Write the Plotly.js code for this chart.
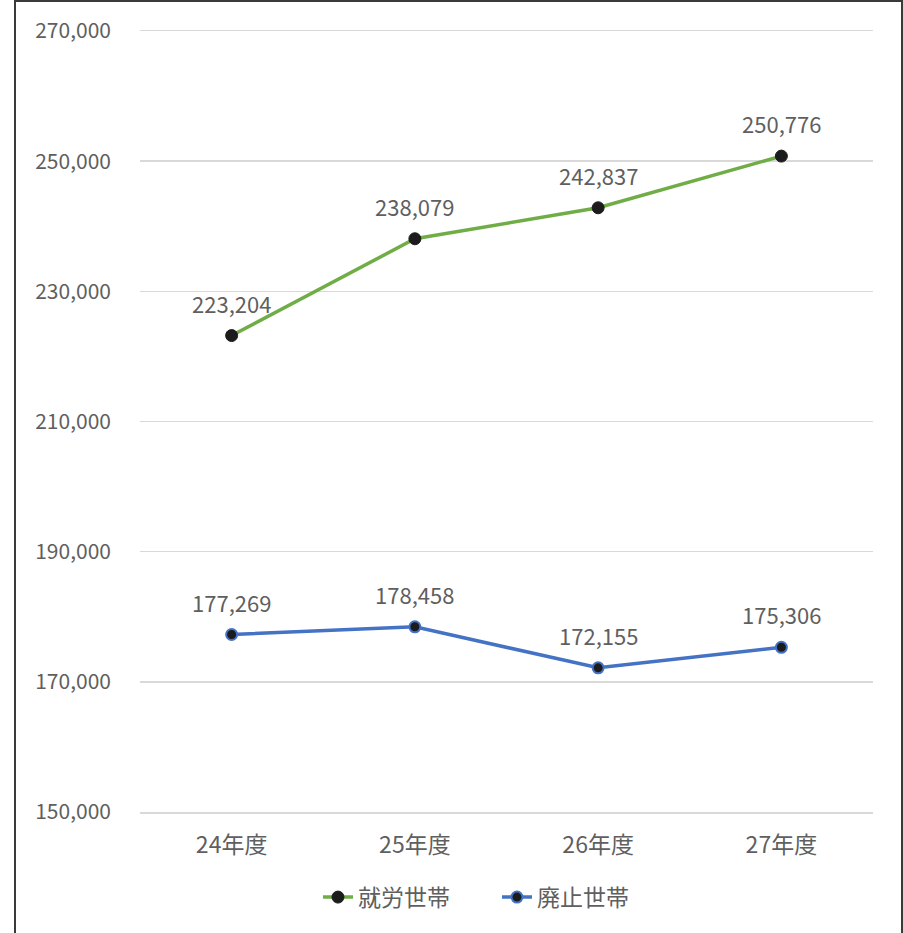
<!DOCTYPE html>
<html><head><meta charset="utf-8">
<script src="https://cdn.plot.ly/plotly-3.0.1.min.js"></script>
<style>
html,body{margin:0;padding:0;background:#fff;overflow:hidden;}
#chart{position:absolute;left:0;top:0;width:903px;height:933px;}
#frame{position:absolute;left:14px;top:0px;width:885px;height:960px;border:2px solid #3a3a3a;pointer-events:none;}
</style></head>
<body>
<div id="chart"></div>
<div id="frame"></div>
<script>
const categories = ["24年度", "25年度", "26年度", "27年度"];
const employedHouseholds = [223204, 238079, 242837, 250776];
const closedHouseholds = [177269, 178458, 172155, 175306];
const seriesNames = ["就労世帯", "廃止世帯"];
const yTicks = [150000, 170000, 190000, 210000, 230000, 250000, 270000];

const fmt = v => v.toLocaleString("en-US");
const font = '"Noto Sans CJK JP", "Noto Sans", sans-serif';
const textColor = "#5f5f5f";

const traces = [
  {x: categories, y: employedHouseholds, name: seriesNames[0], type: "scatter", mode: "lines+markers",
   line: {color: "#70ad47", width: 3.5},
   marker: {color: "#1c1c1c", size: 12, line: {color: "#1c1c1c", width: 1}}},
  {x: categories, y: closedHouseholds, name: seriesNames[1], type: "scatter", mode: "lines+markers",
   line: {color: "#4472c4", width: 3.5},
   marker: {color: "#1c1c1c", size: 11, line: {color: "#4472c4", width: 2}}}
];

const annotations = [];
[employedHouseholds, closedHouseholds].forEach(series => {
  series.forEach((v, i) => {
    annotations.push({x: categories[i], y: v, xref: "x", yref: "y", text: fmt(v),
      showarrow: false, yshift: 33, xanchor: "center", yanchor: "middle",
      font: {family: font, size: 22, color: textColor}});
  });
});

const layout = {
  width: 903, height: 933,
  margin: {l: 140, r: 30, t: 31, b: 121},
  paper_bgcolor: "#fff", plot_bgcolor: "#fff",
  font: {family: font, color: textColor, size: 20},
  showlegend: true,
  legend: {orientation: "h", x: 0.487, xanchor: "center", y: -0.109, yanchor: "middle",
           font: {family: font, size: 23, color: textColor}, entrywidth: 134, entrywidthmode: "pixels", tracegroupgap: 0},
  annotations: annotations,
  xaxis: {type: "category", range: [-0.5, 3.5], showgrid: false, zeroline: false, ticks: "",
          showline: true, mirror: true, linecolor: "#d9d9d9", linewidth: 1.5,
          tickfont: {family: font, size: 23, color: textColor}, ticklabelstandoff: 12},
  yaxis: {range: [150000, 270000], tickvals: yTicks, ticktext: yTicks.map(fmt),
          showgrid: true, gridcolor: "#d9d9d9", gridwidth: 1.5, zeroline: false, showline: false,
          ticks: "", ticklabelstandoff: 28,
          tickfont: {family: font, size: 21, color: textColor}}
};

Plotly.newPlot("chart", traces, layout, {displayModeBar: false, staticPlot: true});
</script>
</body></html>
